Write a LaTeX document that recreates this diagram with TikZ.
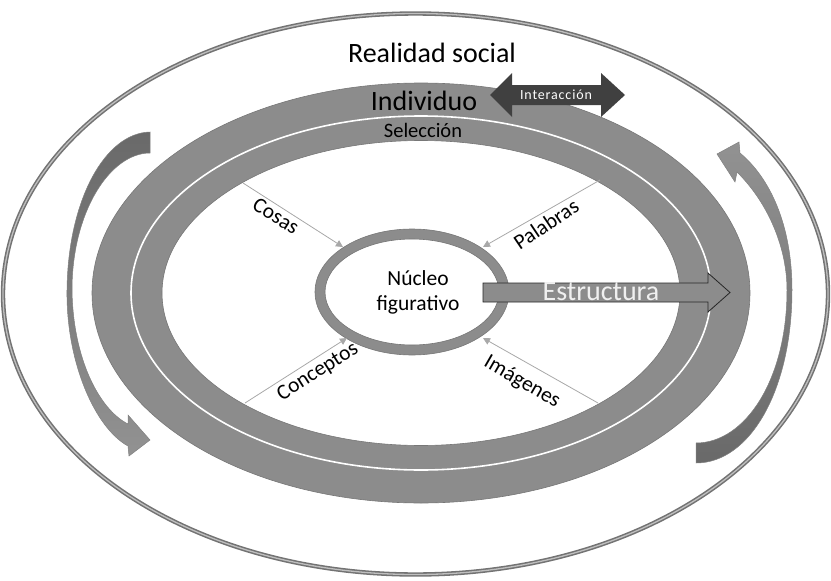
\documentclass[tikz,border=0pt]{standalone}
\usepackage{fontspec}
\setmainfont{Carlito}
\usetikzlibrary{arrows.meta}
\definecolor{ringgray}{HTML}{8C8C8C}
\definecolor{ringedge}{HTML}{777777}
\definecolor{darkarrow}{HTML}{404040}
\definecolor{spokegray}{HTML}{A8A8A8}
\definecolor{curvedark}{HTML}{696969}
\definecolor{curvelight}{HTML}{929292}
\newcommand{\fsz}[1]{\fontsize{#1}{#1}\selectfont}
\tikzset{
  ringfill/.style={fill=ringgray, draw=ringedge, line width=0.6pt, even odd rule},
  spokearrow/.style={draw=spokegray, line width=0.8pt, -{Triangle[length=7pt,width=7pt]}},
  spokelabel/.style={font=\fsz{21.5}, inner sep=0pt},
  curvedarrow/.style={draw=black!50, line width=0.5pt},
}
\begin{document}
\begin{tikzpicture}[x=1pt,y=-1pt]
\useasboundingbox (0,0) rectangle (831,581);

% outer frame: the social reality
\draw[black!55, line width=4.4pt] (415.5,294) ellipse [x radius=412.5pt, y radius=280.5pt];
\draw[black!25, line width=1.3pt] (415.5,294) ellipse [x radius=412.5pt, y radius=280.5pt];

% individual band with its inner selection line
\path[ringfill] (421,293) ellipse [x radius=329pt, y radius=210pt]
                (421,293) ellipse [x radius=259pt, y radius=152.5pt];
\draw[white, line width=1.6pt] (421,293) ellipse [x radius=290pt, y radius=177pt];

% figurative core ring
\path[ringfill] (412,292) ellipse [x radius=97pt, y radius=63pt]
                (412,292) ellipse [x radius=87pt, y radius=53pt];
\node[align=center, font=\fontsize{21.5}{25}\selectfont, inner sep=0pt] (nucleo) at (418,292) {Núcleo\\figurativo};

% spokes into the core
\coordinate (cosasA) at (243,183);  \coordinate (cosasB) at (343,247);
\coordinate (palA)   at (600,180);  \coordinate (palB)   at (483,247);
\coordinate (concA)  at (245,403);  \coordinate (concB)  at (347,338);
\coordinate (imgA)   at (598,403);  \coordinate (imgB)   at (483,338);
\draw[spokearrow] (cosasA) -- (cosasB);
\draw[spokearrow] (palA) -- (palB);
\draw[spokearrow] (concA) -- (concB);
\draw[spokearrow] (imgA) -- (imgB);
\node[spokelabel, rotate=-32] (cosas) at (276,216) {Cosas};
\node[spokelabel, rotate=34] (palabras) at (546,224) {Palabras};
\node[spokelabel, rotate=32.5] (conceptos) at (318,372) {Conceptos};
\node[spokelabel, rotate=-30] (imagenes) at (522,382) {Imágenes};

% structure arrow from the core to the band
\draw[fill=ringgray, draw=black!85, line width=0.8pt]
  (483,283) -- (708,283) -- (708,273) -- (730,292.5) -- (708,312) -- (708,302) -- (483,302) -- cycle;
\node[text=white!94!black, font=\fsz{28}, inner sep=0pt] (estructura) at (601,292) {Estructura};

% interaction double arrow
\fill[darkarrow] (490,95) -- (512,73) -- (512,85) -- (601,85) -- (601,73) -- (625,95)
  -- (601,117) -- (601,105) -- (512,105) -- (512,117) -- cycle;
\node[text=white, font=\fsz{14}\addfontfeatures{LetterSpace=6}, inner sep=0pt] (interaccion) at (556,95) {Interacción};

% titles
\node[font=\fsz{28}, inner sep=0pt] (realidad) at (432,53) {Realidad social};
\node[font=\fsz{28}, inner sep=0pt] (individuo) at (424,101) {Individuo};
\node[font=\fsz{20.5}, inner sep=0pt] (seleccion) at (423,130) {Selección};

% circulating arrows on both sides
\path[curvedarrow, top color=curvedark, bottom color=curvelight]
  (150,132) .. controls (105,133) and (68,200) .. (67,290)
  .. controls (66,362) and (95,428) .. (128,446)
  -- (129,456) -- (150,440) -- (128,415) -- (128,424)
  .. controls (100,410) and (73,360) .. (72,290)
  .. controls (72,212) and (110,153) .. (150,153) -- cycle;
\path[curvedarrow, top color=curvelight, bottom color=curvedark]
  (696,463) .. controls (750,463) and (792,390) .. (792,290)
  .. controls (792,225) and (770,178) .. (740,153)
  -- (739,142) -- (717,154) -- (735,182) -- (737,172)
  .. controls (770,205) and (787,250) .. (787,290)
  .. controls (787,380) and (745,443) .. (696,443) -- cycle;
\end{tikzpicture}
\end{document}
